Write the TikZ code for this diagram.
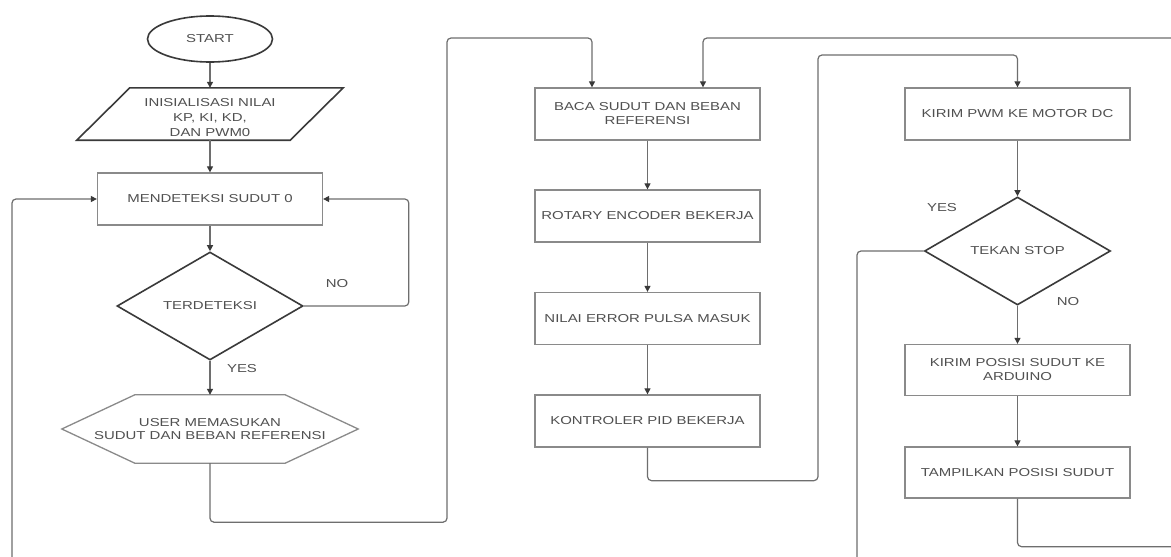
\documentclass[tikz,border=0pt]{standalone}
\usepackage{fontspec}
\newfontfamily\flowfont{Liberation Sans}[FakeStretch=1.3]
\usetikzlibrary{shapes,arrows.meta}

\definecolor{linegray}{HTML}{6E6E6E}
\definecolor{boxgray}{HTML}{8A8A8A}
\definecolor{darkline}{HTML}{3A3A3A}
\definecolor{txtgray}{HTML}{505050}

\begin{document}
\begin{tikzpicture}[x=1pt,y=-1pt,
    every node/.style={font=\flowfont\fontsize{11.5}{14}\selectfont, text=txtgray},
    proc/.style={rectangle, draw=boxgray, line width=1.3pt, minimum width=225pt, minimum height=52pt, align=center, inner sep=2pt},
    decision/.style={diamond, draw=darkline, line width=1.6pt, minimum width=186pt, minimum height=108pt, inner sep=0pt},
    line/.style={draw=linegray, line width=1.2pt, rounded corners=4pt},
    arr/.style={line, -{Triangle[length=6pt,width=6pt,color=darkline]}}]
    \fill[white] (0,0) rectangle (1171,557);
    \useasboundingbox (0,0) rectangle (1171,557);
    \clip (0,0) rectangle (1171,557);

    % left column
    \node[ellipse, draw=darkline, line width=1.6pt, minimum width=125pt, minimum height=46pt] (start) at (210,39) {START};
    \node[minimum width=266pt, minimum height=52pt, inner sep=0pt] (init) at (210,114) {};
    \draw[darkline, line width=1.6pt] ([xshift=53pt]init.north west) -- (init.north east) -- ([xshift=-53pt]init.south east) -- (init.south west) -- cycle;
    \node[align=center, font=\flowfont\fontsize{11.5}{15}\selectfont] (inittxt) at (210,118) {INISIALISASI NILAI\\KP, KI, KD,\\DAN PWM0};
    \node[proc] (mend) at (210,199) {MENDETEKSI SUDUT 0};
    \node[decision] (det) at (210,306) {TERDETEKSI};
    \node[minimum width=296pt, minimum height=68pt, align=center, inner sep=0pt, font=\flowfont\fontsize{11.5}{13}\selectfont] (user) at (210,429) {USER MEMASUKAN\\SUDUT DAN BEBAN REFERENSI};
    \draw[boxgray, line width=1.3pt] (user.west) -- ([xshift=73pt]user.north west) -- ([xshift=-73pt]user.north east) -- (user.east) -- ([xshift=-73pt]user.south east) -- ([xshift=73pt]user.south west) -- cycle;

    % middle column
    \node[proc] (baca) at (647.5,114) {BACA SUDUT DAN BEBAN\\REFERENSI};
    \node[proc] (rot) at (647.5,216) {ROTARY ENCODER BEKERJA};
    \node[proc] (err) at (647.5,318.5) {NILAI ERROR PULSA MASUK};
    \node[proc] (pid) at (647.5,421) {KONTROLER PID BEKERJA};

    % right column
    \node[proc] (kpwm) at (1017.5,114) {KIRIM PWM KE MOTOR DC};
    \node[decision] (stop) at (1017.5,251) {TEKAN STOP};
    \node[proc, minimum height=51pt] (kpos) at (1017.5,370) {KIRIM POSISI SUDUT KE\\ARDUINO};
    \node[proc, minimum height=51pt] (tamp) at (1017.5,472.5) {TAMPILKAN POSISI SUDUT};

    % labels
    \node (lno1) at (337,284) {NO};
    \node (lyes1) at (242,369) {YES};
    \node (lyes2) at (942,208) {YES};
    \node (lno2) at (1068,302) {NO};

    % connectors
    \draw[arr] (start) -- (init.north);
    \draw[arr] (init.south) -- (mend.north);
    \draw[arr] (mend.south) -- (det.north);
    \draw[arr] (det.east) -- ++(105,0) |- (mend.east);
    \draw[arr] (det.south) -- (user.north);
    \draw[arr] (user.south) -- ++(0,59) -| (447,38) -| ([xshift=-55.5pt]baca.north);
    \draw[arr] (baca) -- (rot);
    \draw[arr] (rot) -- (err);
    \draw[arr] (err) -- (pid);
    \draw[arr] (pid.south) -- ++(0,33) -| (818,55) -| (kpwm.north);
    \draw[arr] (kpwm.south) -- (stop.north);
    \draw[arr] (stop.south) -- (kpos.north);
    \draw[arr] (kpos) -- (tamp);
    \draw[arr] (tamp.south) -- ++(0,48) -| (1180,38) -| ([xshift=55.5pt]baca.north);
    \draw[arr] (stop.west) -| (857,580) -| (12,199) -- (mend.west);
\end{tikzpicture}
\end{document}
